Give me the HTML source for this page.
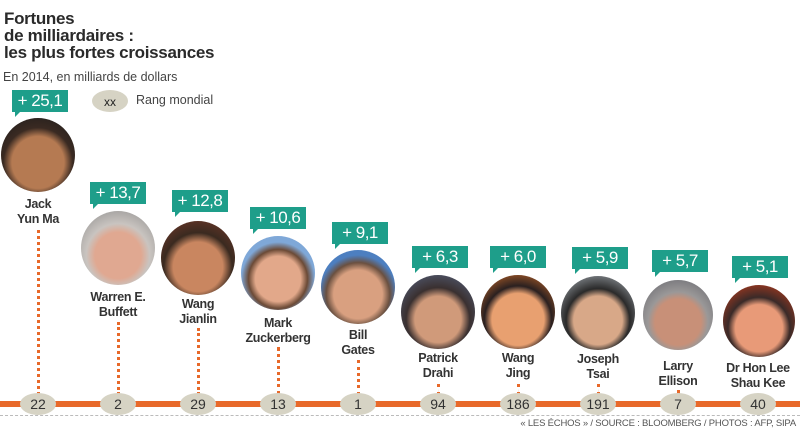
<!DOCTYPE html>
<html><head><meta charset="utf-8"><style>
body{margin:0;width:800px;height:431px;background:#fff;position:relative;overflow:hidden;font-family:"Liberation Sans",sans-serif;color:#222}
.a{position:absolute}
.t{left:4px;top:10px;font-size:17px;font-weight:bold;line-height:17px;letter-spacing:-0.3px;color:#2a2a2a}
.sub{left:3px;top:70px;font-size:12.5px;color:#444}
.box{position:absolute;width:56px;height:22px;background:#1e9e8a;color:#fff;font-size:17px;line-height:22px;text-align:center;letter-spacing:-0.5px}
.box:after{content:"";position:absolute;left:3px;bottom:-5px;border-left:5px solid #1e9e8a;border-bottom:5px solid transparent}
.face{position:absolute;border-radius:50%;box-sizing:border-box}
.nm{position:absolute;width:100px;text-align:center;font-size:12.5px;line-height:15px;font-weight:bold;color:#333;letter-spacing:-0.3px}
.dot{position:absolute;width:0;border-left:3px dotted #e8692a}
.ov{position:absolute;width:36px;height:22px;border-radius:50%;background:#d6d3c4;font-size:14px;line-height:22px;text-align:center;color:#333}
</style></head><body>
<div class="a t">Fortunes<br>de milliardaires :<br>les plus fortes croissances</div>
<div class="a sub">En 2014, en milliards de dollars</div>
<div class="a" style="left:92px;top:90px;width:36px;height:22px;border-radius:50%;background:#d6d3c4;font-size:12px;line-height:24px;text-align:center">xx</div>
<div class="a" style="left:136px;top:93px;font-size:12.5px;color:#444">Rang mondial</div>

<div class="a" style="left:0;top:401px;width:800px;height:6px;background:#e8692a"></div>
<div class="a" style="left:0;top:415px;width:800px;border-top:1px dashed #bbb"></div>
<div class="a" style="right:4px;top:418px;font-size:9.5px;color:#555;letter-spacing:-0.2px">« LES ÉCHOS » / SOURCE : BLOOMBERG / PHOTOS : AFP, SIPA</div>

<!-- Jack -->
<div class="box" style="left:12px;top:90px">+ 25,1</div>
<div class="face" style="left:1px;top:118px;width:74px;height:74px;background:radial-gradient(circle at 50% 60%,#b57a52 0 45%,#3a2a22 60%,#1a1a1a)"></div>
<div class="nm" style="left:-12px;top:197px">Jack<br>Yun Ma</div>
<div class="dot" style="left:37px;top:230px;height:165px"></div>
<div class="ov" style="left:20px;top:393px">22</div>
<!-- Warren -->
<div class="box" style="left:90px;top:182px">+ 13,7</div>
<div class="face" style="left:81px;top:211px;width:74px;height:74px;background:radial-gradient(circle at 50% 60%,#e0a891 0 40%,#c9c4c0 55%,#888)"></div>
<div class="nm" style="left:68px;top:290px">Warren E.<br>Buffett</div>
<div class="dot" style="left:117px;top:322px;height:73px"></div>
<div class="ov" style="left:100px;top:393px">2</div>
<!-- Wang Jianlin -->
<div class="box" style="left:172px;top:190px">+ 12,8</div>
<div class="face" style="left:161px;top:221px;width:74px;height:74px;background:radial-gradient(circle at 50% 62%,#c98660 0 42%,#3a2a20 58%,#7a3a2a)"></div>
<div class="nm" style="left:148px;top:297px">Wang<br>Jianlin</div>
<div class="dot" style="left:197px;top:328px;height:67px"></div>
<div class="ov" style="left:180px;top:393px">29</div>
<!-- Mark -->
<div class="box" style="left:250px;top:207px">+ 10,6</div>
<div class="face" style="left:241px;top:236px;width:74px;height:74px;background:radial-gradient(circle at 50% 58%,#e2a88a 0 40%,#6b4a36 52%,#7fa8d8 65%)"></div>
<div class="nm" style="left:228px;top:316px">Mark<br>Zuckerberg</div>
<div class="dot" style="left:277px;top:347px;height:48px"></div>
<div class="ov" style="left:260px;top:393px">13</div>
<!-- Bill -->
<div class="box" style="left:332px;top:222px">+ 9,1</div>
<div class="face" style="left:321px;top:250px;width:74px;height:74px;background:radial-gradient(circle at 50% 60%,#d9a080 0 42%,#6a5040 55%,#4d7fc0 68%)"></div>
<div class="nm" style="left:308px;top:328px">Bill<br>Gates</div>
<div class="dot" style="left:357px;top:360px;height:35px"></div>
<div class="ov" style="left:340px;top:393px">1</div>
<!-- Patrick -->
<div class="box" style="left:412px;top:246px">+ 6,3</div>
<div class="face" style="left:401px;top:275px;width:74px;height:74px;background:radial-gradient(circle at 50% 60%,#d09a7a 0 40%,#3a3030 55%,#5a6a8a)"></div>
<div class="nm" style="left:388px;top:351px">Patrick<br>Drahi</div>
<div class="dot" style="left:437px;top:384px;height:11px"></div>
<div class="ov" style="left:420px;top:393px">94</div>
<!-- Wang Jing -->
<div class="box" style="left:490px;top:246px">+ 6,0</div>
<div class="face" style="left:481px;top:275px;width:74px;height:74px;background:radial-gradient(circle at 50% 60%,#e8a070 0 45%,#2a2020 58%,#e8782a)"></div>
<div class="nm" style="left:468px;top:351px">Wang<br>Jing</div>
<div class="dot" style="left:517px;top:384px;height:11px"></div>
<div class="ov" style="left:500px;top:393px">186</div>
<!-- Joseph -->
<div class="box" style="left:572px;top:247px">+ 5,9</div>
<div class="face" style="left:561px;top:276px;width:74px;height:74px;background:radial-gradient(circle at 50% 60%,#d8a888 0 42%,#2a2a2a 55%,#b8c0c8)"></div>
<div class="nm" style="left:548px;top:352px">Joseph<br>Tsai</div>
<div class="dot" style="left:597px;top:384px;height:11px"></div>
<div class="ov" style="left:580px;top:393px">191</div>
<!-- Larry -->
<div class="box" style="left:652px;top:250px">+ 5,7</div>
<div class="face" style="left:643px;top:280px;width:70px;height:70px;background:radial-gradient(circle at 50% 60%,#c89078 0 42%,#9a9898 55%,#606068)"></div>
<div class="nm" style="left:628px;top:359px">Larry<br>Ellison</div>
<div class="dot" style="left:677px;top:390px;height:5px"></div>
<div class="ov" style="left:660px;top:393px">7</div>
<!-- Dr Hon -->
<div class="box" style="left:732px;top:256px">+ 5,1</div>
<div class="face" style="left:723px;top:285px;width:72px;height:72px;background:radial-gradient(circle at 50% 60%,#e89a78 0 42%,#3a2a28 55%,#d8401a)"></div>
<div class="nm" style="left:708px;top:361px">Dr Hon Lee<br>Shau Kee</div>
<div class="ov" style="left:740px;top:393px">40</div>
</body></html>
